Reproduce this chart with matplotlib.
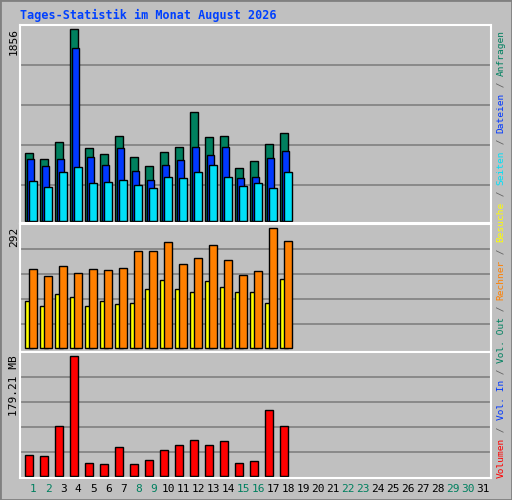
import matplotlib
matplotlib.use("Agg")
import matplotlib.pyplot as plt
from matplotlib.patches import Rectangle

W, H = 512, 500
MONO = "DejaVu Sans Mono"
BG = "#C0C0C0"

days = list(range(1, 19))
anfragen = [653, 595, 760, 1856, 702, 643, 818, 614, 527, 663, 711, 1051, 808, 818, 508, 576, 740, 847]
dateien = [595, 527, 595, 1672, 614, 537, 702, 479, 391, 537, 585, 711, 634, 711, 411, 420, 605, 673]
seiten = [382, 323, 469, 517, 362, 372, 391, 343, 314, 420, 411, 469, 537, 420, 333, 362, 314, 469]
besuche = [114, 102, 131, 124, 102, 114, 107, 110, 144, 165, 144, 136, 163, 148, 136, 136, 110, 168]
rechner = [192, 175, 200, 183, 192, 190, 195, 236, 236, 258, 204, 219, 251, 214, 178, 187, 292, 260]
volumen = [30.5, 29.0, 74.1, 179.21, 18.5, 17.0, 42.6, 17.0, 23.0, 38.0, 45.6, 53.1, 45.6, 51.6, 18.5, 21.5, 98.1, 74.1]
weekend = [1, 2, 8, 9, 15, 16, 22, 23, 29, 30]

C_GREEN, C_BLUE, C_CYAN = "#00805F", "#0038FF", "#00E0F8"
C_YEL, C_ORA, C_RED = "#FFFF00", "#FF8000", "#FF0000"

fig = plt.figure(figsize=(W / 100, H / 100), dpi=100)
fig.patch.set_facecolor(BG)
fig.add_artist(Rectangle((0, 0), 1, 1, transform=fig.transFigure, fill=False,
                         edgecolor="#808080", lw=2))


def px_axes(x0, y0, x1, y1):
    return fig.add_axes([x0 / W, 1 - y1 / H, (x1 - x0) / W, (y1 - y0) / H])


def slot(d, off):
    return 25.3 + 15 * (d - 1) + off


def panel(y0, y1, ylim, grid_y):
    ax = px_axes(20, y0, 491, y1)
    ax.set_facecolor(BG)
    ax.set_xlim(20, 491)
    ax.set_ylim(*ylim)
    ax.set_xticks([]); ax.set_yticks([])
    for s in ax.spines.values():
        s.set_color("white"); s.set_linewidth(1.5)
    for gy in grid_y:
        f = (y1 - gy) / (y1 - y0)
        ax.plot([0, 1], [f, f], transform=ax.transAxes, color="#808080", lw=1.2, zorder=0)
    return ax


def bars(ax, vals, off, w, color):
    ax.bar([slot(d, off) for d in days], vals, width=w, align="edge",
           color=color, edgecolor="black", linewidth=1, zorder=2)


# top panel
ax1 = panel(25, 223.3, (-25, 1898), [65.3, 105.3, 145.3, 185.3])
bars(ax1, anfragen, 0, 7.4, C_GREEN)
bars(ax1, dateien, 2, 6.3, C_BLUE)
bars(ax1, seiten, 4, 7.3, C_CYAN)

# middle panel
ax2 = panel(224.3, 351.7, (-8.3, 301.7), [249.3, 274.3, 299.3, 324.3])
bars(ax2, besuche, 0, 7.3, C_YEL)
bars(ax2, rechner, 4, 7.3, C_ORA)

# bottom panel
ax3 = panel(352, 478.3, (-3.9, 185.7), [377.3, 402.3, 427.3, 452.3])
bars(ax3, volumen, 0, 7.3, C_RED)

# title
fig.text(20 / W, 1 - 15 / H, "Tages-Statistik im Monat August 2026", family=MONO,
         weight="bold", fontsize=8.5, color="#0040FF", va="center")

# left max labels
for y, lab in [(28, "1856"), (227, "292"), (355, "179.21 MB")]:
    fig.text(14 / W, 1 - y / H, lab, family=MONO, fontsize=8, rotation=90,
             ha="center", va="top")

# day labels
for d in range(1, 32):
    fig.text((25.3 + 15 * (d - 1) + 8) / W, 1 - 489 / H, str(d), family=MONO,
             fontsize=8, ha="center", va="center",
             color=C_GREEN if d in weekend else "black")

# right legend column, drawn bottom-up, scaled to fit 478 -> 30 px
parts = [("Volumen", C_RED), (" / ", "#606060"), ("Vol. In", C_BLUE), (" / ", "#606060"),
         ("Vol. Out", C_GREEN), (" / ", "#606060"), ("Rechner", C_ORA), (" / ", "#606060"),
         ("Besuche", C_YEL), (" / ", "#606060"), ("Seiten", C_CYAN), (" / ", "#606060"),
         ("Dateien", C_BLUE), (" / ", "#606060"), ("Anfragen", C_GREEN)]
fig.canvas.draw()
r = fig.canvas.get_renderer()
probe = fig.text(0, 0, "".join(p[0] for p in parts), family=MONO, fontsize=8, rotation=90)
fs = 8 * 448 / probe.get_window_extent(r).height
probe.remove()
ypx = 478
for txt, col in parts:
    t = fig.text(501 / W, 1 - ypx / H, txt, family=MONO, fontsize=fs, rotation=90,
                 ha="center", va="bottom", color=col)
    ypx -= t.get_window_extent(r).height

fig.savefig("out.png", dpi=100, facecolor=BG)
